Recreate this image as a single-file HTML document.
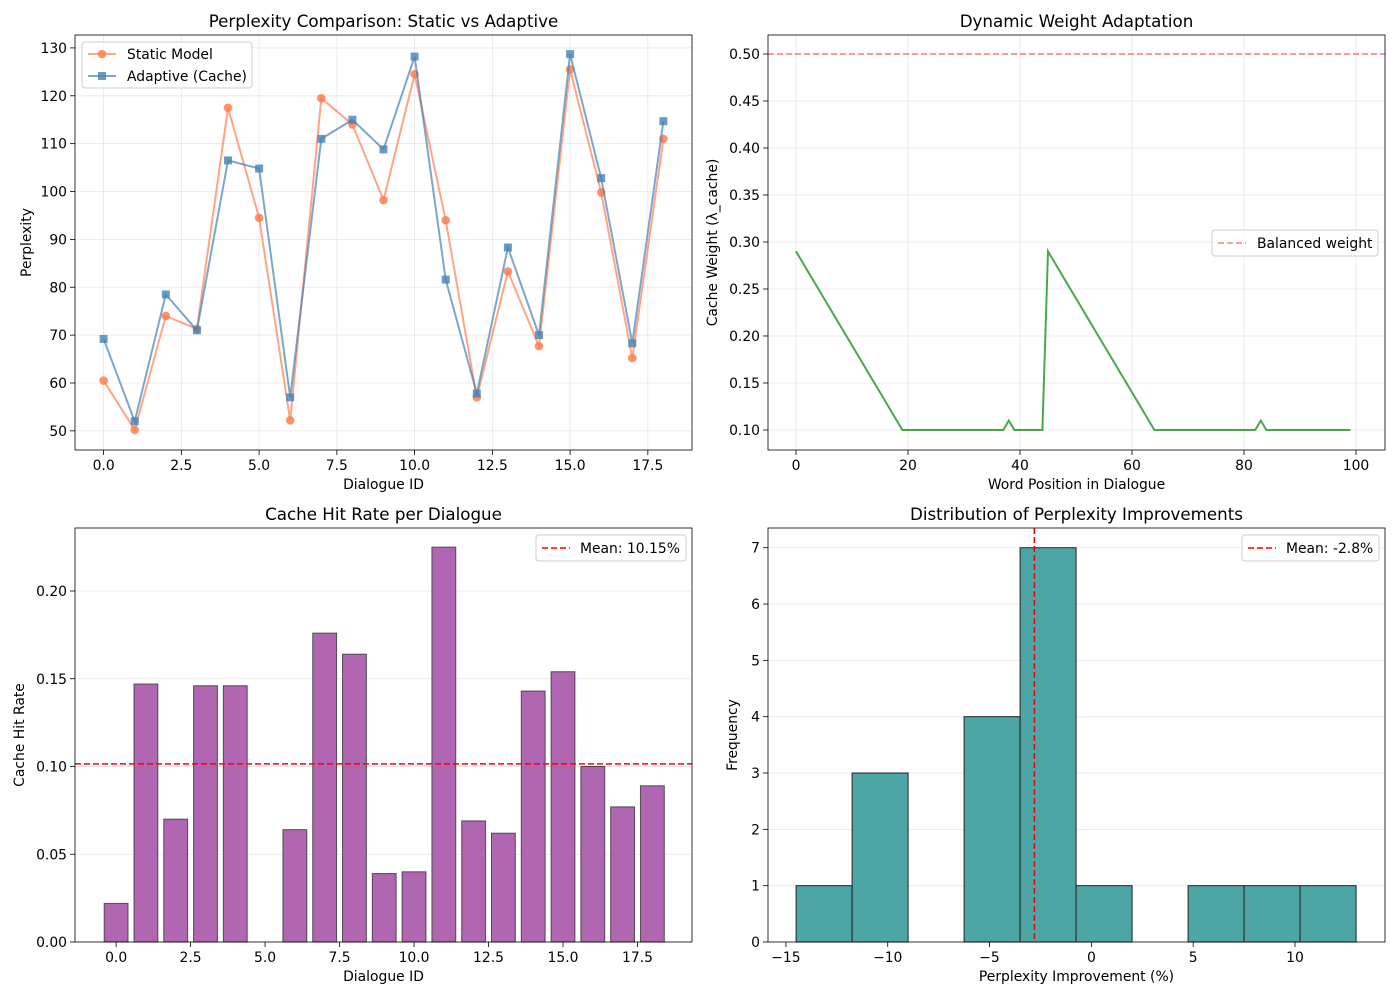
<!DOCTYPE html>
<html><head><meta charset="utf-8"><style>
body{margin:0;background:#fff;}
svg{font-family:"DejaVu Sans","Liberation Sans",sans-serif;}
</style></head><body>
<svg id="fig" width="1400" height="1000" xmlns="http://www.w3.org/2000/svg"></svg>
<script>
const dialogueIds=[0,1,2,3,4,5,6,7,8,9,10,11,12,13,14,15,16,17,18];
const staticPpl=[60.5,50.2,74,71.3,117.5,94.5,52.2,119.5,114,98.2,124.5,94,57,83.3,67.7,125.5,99.8,65.2,111];
const adaptivePpl=[69.2,52,78.5,71,106.5,104.8,57,111,115,108.8,128.2,81.6,57.8,88.3,70,128.7,102.8,68.3,114.7];
const cacheWeights=[0.29,0.28,0.27,0.26,0.25,0.24,0.23,0.22,0.21,0.20,0.19,0.18,0.17,0.16,0.15,0.14,0.13,0.12,0.11,0.10,
0.10,0.10,0.10,0.10,0.10,0.10,0.10,0.10,0.10,0.10,0.10,0.10,0.10,0.10,0.10,0.10,0.10,0.10,0.11,0.10,
0.10,0.10,0.10,0.10,0.10,0.29,0.28,0.27,0.26,0.25,0.24,0.23,0.22,0.21,0.20,0.19,0.18,0.17,0.16,0.15,
0.14,0.13,0.12,0.11,0.10,0.10,0.10,0.10,0.10,0.10,0.10,0.10,0.10,0.10,0.10,0.10,0.10,0.10,0.10,0.10,
0.10,0.10,0.10,0.11,0.10,0.10,0.10,0.10,0.10,0.10,0.10,0.10,0.10,0.10,0.10,0.10,0.10,0.10,0.10,0.10];
const hitRates=[0.022,0.147,0.070,0.146,0.146,0,0.064,0.176,0.164,0.039,0.040,0.225,0.069,0.062,0.143,0.154,0.100,0.077,0.089];
const meanHit=0.1015;
const histEdges=[-14.5,-11.75,-9.0,-6.25,-3.5,-0.75,2.0,4.75,7.5,10.25,13.0];
const histCounts=[1,3,0,4,7,1,0,1,1,1];
const meanImp=-2.8;
const tlXTicks=[0,2.5,5,7.5,10,12.5,15,17.5], tlYTicks=[50,60,70,80,90,100,110,120,130];
const trXTicks=[0,20,40,60,80,100], trYTicks=[0.10,0.15,0.20,0.25,0.30,0.35,0.40,0.45,0.50];
const blXTicks=[0,2.5,5,7.5,10,12.5,15,17.5], blYTicks=[0,0.05,0.10,0.15,0.20];
const brXTicks=[-15,-10,-5,0,5,10], brYTicks=[0,1,2,3,4,5,6,7];

const FS=13.9, TFS=16.7;
const svg=document.getElementById('fig');
const NS='http://www.w3.org/2000/svg';
function el(tag,attrs,parent,text){const e=document.createElementNS(NS,tag);for(const k in attrs)e.setAttribute(k,attrs[k]);if(text!==undefined)e.textContent=text;(parent||svg).appendChild(e);return e;}
function axes(name,L,T,R,B,xmin,xmax,ymin,ymax){
  const g=el('g',{});
  
  
  return {g,L,T,R,B,x:v=>L+(v-xmin)/(xmax-xmin)*(R-L),y:v=>B-(v-ymin)/(ymax-ymin)*(B-T)};
}
function drawAxes(a,xt,yt,xfmt,yfmt,gridX,gridY,title,xl,yl,ylOff){
  const g=a.g;
  xt.forEach(v=>{const px=a.x(v);
    if(gridX){const l=el('line',{x1:px,x2:px,y1:a.T,y2:a.B,stroke:'#b0b0b0','stroke-opacity':0.3,'stroke-width':0.8},g);}
    el('line',{x1:px,x2:px,y1:a.B,y2:a.B+5,stroke:'#000','stroke-width':0.8},g);
    const t=el('text',{x:px,y:a.B+20,'font-size':FS,'text-anchor':'middle'},g,xfmt(v));});
  yt.forEach(v=>{const py=a.y(v);
    if(gridY){const l=el('line',{x1:a.L,x2:a.R,y1:py,y2:py,stroke:'#b0b0b0','stroke-opacity':0.3,'stroke-width':0.8},g);}
    el('line',{x1:a.L-5,x2:a.L,y1:py,y2:py,stroke:'#000','stroke-width':0.8},g);
    const t=el('text',{x:a.L-8,y:py+5,'font-size':FS,'text-anchor':'end'},g,yfmt(v));});
  const tt=el('text',{x:(a.L+a.R)/2,y:a.T-8,'font-size':TFS,'text-anchor':'middle'},g,title);
  const xa=el('text',{x:(a.L+a.R)/2,y:a.B+39,'font-size':FS,'text-anchor':'middle'},g,xl);
  const cy=(a.T+a.B)/2, yx=a.L-ylOff;
  const ya=el('text',{x:yx,y:cy,'font-size':FS,'text-anchor':'middle',transform:`rotate(-90 ${yx} ${cy})`},g,yl);
}
function frame(a){const r=el('rect',{x:a.L,y:a.T,width:a.R-a.L,height:a.B-a.T,fill:'none',stroke:'#000','stroke-width':0.8},a.g);}
function legendBox(a,x,y,w,h){const r=el('rect',{x,y,width:w,height:h,rx:3,fill:'#fff','fill-opacity':0.8,stroke:'#ccc'},a.g);}

// Top-left
const A=axes('perplexity-comparison-chart',75,35,692,450,-0.92,18.92,46.0,132.7);
drawAxes(A,tlXTicks,tlYTicks,v=>v.toFixed(1),v=>String(v),true,true,'Perplexity Comparison: Static vs Adaptive','Dialogue ID','Perplexity',44);
const sp=el('polyline',{points:dialogueIds.map((d,i)=>A.x(d)+','+A.y(staticPpl[i])).join(' '),fill:'none',stroke:'coral','stroke-opacity':0.7,'stroke-width':2},A.g);

dialogueIds.forEach((d,i)=>{const c=el('circle',{cx:A.x(d),cy:A.y(staticPpl[i]),r:4.3,fill:'coral','fill-opacity':0.85},A.g);});
const ap=el('polyline',{points:dialogueIds.map((d,i)=>A.x(d)+','+A.y(adaptivePpl[i])).join(' '),fill:'none',stroke:'steelblue','stroke-opacity':0.7,'stroke-width':2},A.g);

dialogueIds.forEach((d,i)=>{const c=el('rect',{x:A.x(d)-4,y:A.y(adaptivePpl[i])-4,width:8,height:8,fill:'steelblue','fill-opacity':0.8},A.g);});
frame(A);
legendBox(A,82,42,170,46);
el('line',{x1:88,x2:116,y1:54,y2:54,stroke:'coral','stroke-opacity':0.7,'stroke-width':2},A.g);
el('circle',{cx:102,cy:54,r:4.3,fill:'coral','fill-opacity':0.85},A.g);
let t=el('text',{x:127,y:59,'font-size':FS},A.g,'Static Model');
el('line',{x1:88,x2:116,y1:76,y2:76,stroke:'steelblue','stroke-opacity':0.7,'stroke-width':2},A.g);
el('rect',{x:98,y:72,width:8,height:8,fill:'steelblue','fill-opacity':0.8},A.g);
t=el('text',{x:127,y:81,'font-size':FS},A.g,'Adaptive (Cache)');

// Top-right
const B=axes('dynamic-weight-chart',768,35,1385,450,-5,105.18,0.0787,0.5202);
drawAxes(B,trXTicks,trYTicks,v=>String(v),v=>v.toFixed(2),true,true,'Dynamic Weight Adaptation','Word Position in Dialogue','Cache Weight (λ_cache)',51);
const hl=el('line',{x1:B.L,x2:B.R,y1:B.y(0.5),y2:B.y(0.5),stroke:'red','stroke-opacity':0.5,'stroke-width':1.6,'stroke-dasharray':'6,3'},B.g);

const wl=el('polyline',{points:cacheWeights.map((w,i)=>B.x(i)+','+B.y(w)).join(' '),fill:'none',stroke:'green','stroke-opacity':0.7,'stroke-width':2},B.g);

frame(B);
legendBox(B,1212,230,166,26);
el('line',{x1:1218,x2:1246,y1:243,y2:243,stroke:'red','stroke-opacity':0.5,'stroke-width':1.6,'stroke-dasharray':'6,3'},B.g);
t=el('text',{x:1257,y:248,'font-size':FS},B.g,'Balanced weight');

// Bottom-left
const C=axes('cache-hit-rate-chart',75,528,692,942,-1.38,19.33,0,0.2359);
drawAxes(C,blXTicks,blYTicks,v=>v.toFixed(1),v=>v.toFixed(2),false,true,'Cache Hit Rate per Dialogue','Dialogue ID','Cache Hit Rate',51);
dialogueIds.forEach((d,i)=>{const x0=C.x(d-0.4),x1=C.x(d+0.4),y0=C.y(hitRates[i]);
  const r=el('rect',{x:x0,y:y0,width:x1-x0,height:C.B-y0,fill:'#b066b0',stroke:'#333','stroke-opacity':0.8,'stroke-width':1},C.g);
  });
const ml=el('line',{x1:C.L,x2:C.R,y1:C.y(meanHit),y2:C.y(meanHit),stroke:'red','stroke-width':1.6,'stroke-dasharray':'6,3'},C.g);

frame(C);
legendBox(C,536,535,150,26);
el('line',{x1:542,x2:570,y1:548,y2:548,stroke:'red','stroke-width':1.6,'stroke-dasharray':'6,3'},C.g);
t=el('text',{x:580,y:553,'font-size':FS},C.g,'Mean: 10.15%');

// Bottom-right
const D=axes('perplexity-improvement-histogram',768,528,1385,942,-15.88,14.42,0,7.35);
drawAxes(D,brXTicks,brYTicks,v=>v<0?'\u2212'+Math.abs(v):String(v),v=>String(v),false,true,'Distribution of Perplexity Improvements','Perplexity Improvement (%)','Frequency',31);
histCounts.forEach((c,i)=>{if(c===0)return;const x0=D.x(histEdges[i]),x1=D.x(histEdges[i+1]),y0=D.y(c);
  const r=el('rect',{x:x0,y:y0,width:x1-x0,height:D.B-y0,fill:'#4da6a6',stroke:'#222','stroke-width':1},D.g);
  });
const mi=el('line',{x1:D.x(meanImp),x2:D.x(meanImp),y1:D.T,y2:D.B,stroke:'red','stroke-width':1.6,'stroke-dasharray':'6,3'},D.g);

frame(D);
legendBox(D,1242,535,137,26);
el('line',{x1:1248,x2:1276,y1:548,y2:548,stroke:'red','stroke-width':1.6,'stroke-dasharray':'6,3'},D.g);
t=el('text',{x:1286,y:553,'font-size':FS},D.g,'Mean: -2.8%');
</script>
</body></html>
